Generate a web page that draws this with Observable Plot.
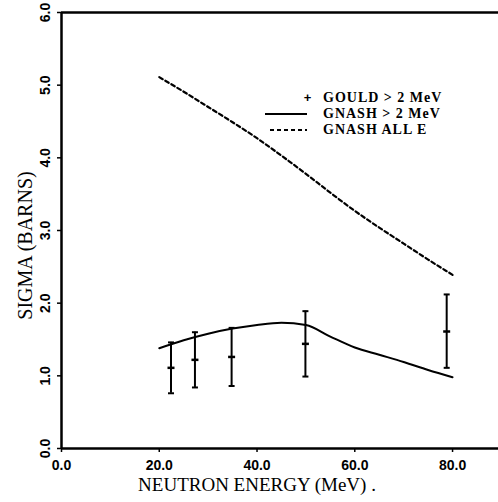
<!DOCTYPE html>
<html><head><meta charset="utf-8">
<script src="https://cdn.jsdelivr.net/npm/d3@7"></script>
<script src="https://cdn.jsdelivr.net/npm/@observablehq/plot@0.6"></script>
<style>
body{margin:0;background:#fff}
#chart{position:relative;width:498px;height:502px;overflow:hidden;background:#fff}
#legend{position:absolute;left:262px;top:90px;font:bold 14px "Liberation Serif",serif;letter-spacing:1px;color:#000;line-height:16px}
#legend .row{display:flex;align-items:center;height:16px}
#legend svg{width:50px;height:16px;flex:none}
</style></head><body>
<div id="chart"></div>
<script>
// GNASH > 2 MeV (solid)
const gnashEnergy = [20,25,30,35,40,45,50,55,60,65,70,75,80];
const gnashAbove2 = [1.38,1.49,1.58,1.65,1.70,1.73,1.70,1.54,1.39,1.29,1.19,1.08,0.98];
// GNASH ALL E (dashed)
const allEnergy = [20,25,30,35,40,45,50,55,60,65,70,75,80];
const gnashAllE = [5.11,4.91,4.70,4.49,4.27,4.03,3.78,3.52,3.27,3.04,2.82,2.60,2.39];
// GOULD > 2 MeV (points with error bars)
const gouldEnergy = [22.4,27.3,34.8,49.9,78.8];
const gouldSigma = [1.11,1.22,1.26,1.44,1.61];
const gouldLow = [0.76,0.84,0.86,0.99,1.11];
const gouldHigh = [1.46,1.60,1.66,1.89,2.12];
const xTicks = [0,20,40,60,80];
const yTicks = [0,1,2,3,4,5,6];
const labels = {x: "NEUTRON ENERGY (MeV) .", y: "SIGMA (BARNS)",
  legend: ["GOULD > 2 MeV", "GNASH > 2 MeV", "GNASH ALL E"]};

const solid = gnashEnergy.map((e,i)=>({e, s: gnashAbove2[i]}));
const dashed = allEnergy.map((e,i)=>({e, s: gnashAllE[i]}));
const gould = gouldEnergy.map((e,i)=>({e, s: gouldSigma[i], lo: gouldLow[i], hi: gouldHigh[i]}));

const hbar = {draw(ctx, size){ const r = Math.sqrt(size/Math.PI); ctx.moveTo(-r,0); ctx.lineTo(r,0); }};

const plot = Plot.plot({
  width: 498, height: 502,
  marginLeft: 61, marginRight: 0, marginTop: 12, marginBottom: 54,
  style: {background: "#fff", color: "#000", overflow: "visible"},
  x: {domain: [0, 89.4]},
  y: {domain: [0, 6]},
  marks: [
    Plot.axisX({ticks: xTicks, tickFormat: d3.format(".1f"), tickSize: 4, tickPadding: 8, label: null,
      fontSize: 14, fontWeight: "bold", fontFamily: "Liberation Sans, sans-serif", strokeWidth: 1.5}),
    Plot.axisY({ticks: yTicks, tickFormat: d3.format(".1f"), tickSize: 4, tickPadding: 8, tickRotate: -90, label: null,
      fontSize: 14, fontWeight: "bold", fontFamily: "Liberation Sans, sans-serif", strokeWidth: 1.5}),
    Plot.text([labels.x], {frameAnchor: "bottom", textAnchor: "middle", dy: 42, dx: -23, fontSize: 19, letterSpacing: "0.3px", fontFamily: "Liberation Serif, serif", fill: "#000"}),
    Plot.text([labels.y], {frameAnchor: "left", textAnchor: "middle", rotate: -90, dx: -36, dy: 15, fontSize: 20, letterSpacing: "0.5px", fontFamily: "Liberation Serif, serif", fill: "#000"}),
    Plot.ruleY([0], {stroke: "#000", strokeWidth: 2.5}),
    Plot.ruleY([6], {stroke: "#000", strokeWidth: 2.5}),
    Plot.ruleX([0], {stroke: "#000", strokeWidth: 2.5}),
    Plot.line(dashed, {x: "e", y: "s", curve: "monotone-x", stroke: "#000", strokeWidth: 2.2, strokeDasharray: "4,3"}),
    Plot.line(solid, {x: "e", y: "s", curve: "monotone-x", stroke: "#000", strokeWidth: 2}),
    Plot.ruleX(gould, {x: "e", y1: "lo", y2: "hi", stroke: "#000", strokeWidth: 2}),
    Plot.dot(gould, {x: "e", y: "lo", symbol: hbar, r: 3, stroke: "#000", strokeWidth: 2}),
    Plot.dot(gould, {x: "e", y: "hi", symbol: hbar, r: 3, stroke: "#000", strokeWidth: 2}),
    Plot.dot(gould, {x: "e", y: "s", symbol: hbar, r: 3.5, stroke: "#000", strokeWidth: 2.5})
  ]
});
const chart = document.getElementById("chart");
chart.appendChild(plot);

// legend
const legend = document.createElement("div");
legend.id = "legend";
const samples = [
  '<svg><text x="46" y="12" text-anchor="middle" font-size="13" font-weight="bold" font-family="Liberation Sans">+</text></svg>',
  '<svg><line x1="3" x2="45" y1="8" y2="8" stroke="#000" stroke-width="2"/></svg>',
  '<svg><line x1="8" x2="45" y1="8" y2="8" stroke="#000" stroke-width="2" stroke-dasharray="4,3"/></svg>'
];
labels.legend.forEach((t,i)=>{
  const row = document.createElement("div");
  row.className = "row";
  row.innerHTML = samples[i] + '<span style="margin-left:11px;white-space:nowrap">' + t + '</span>';
  legend.appendChild(row);
});
chart.appendChild(legend);
</script>
</body></html>
